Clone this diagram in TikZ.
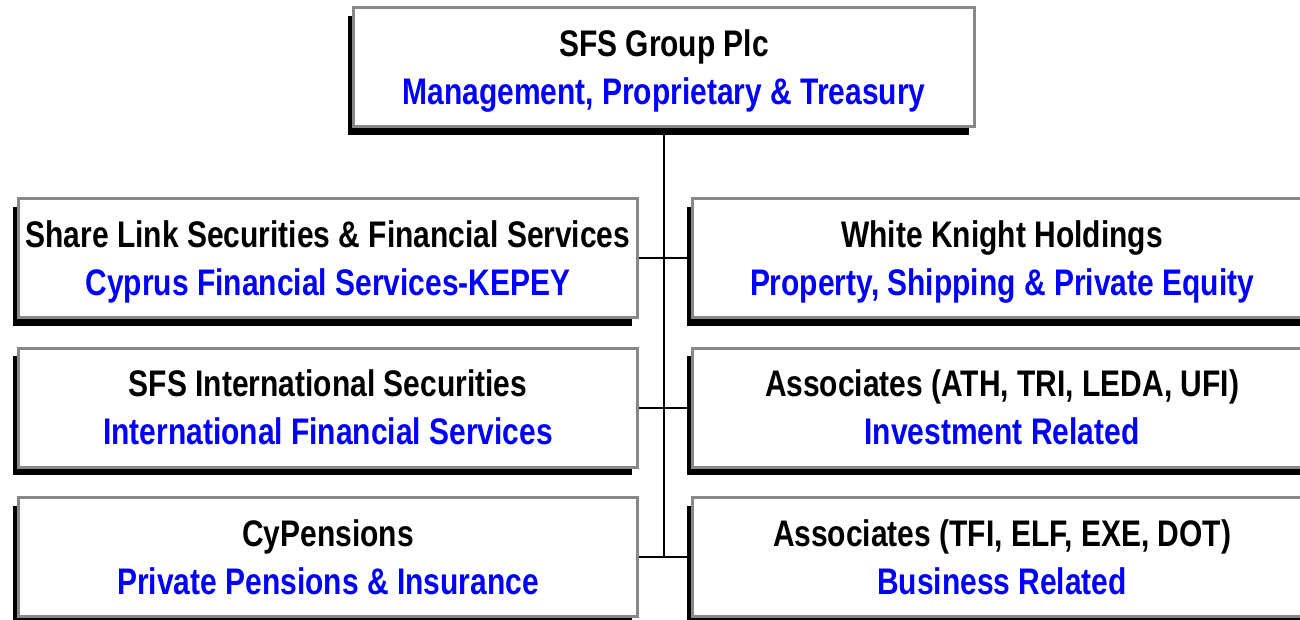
\documentclass[tikz,border=0pt]{standalone}
\usepackage{fontspec}
\setmainfont{Liberation Sans}[FakeStretch=0.81]
\usetikzlibrary{shadows}
\definecolor{boxgray}{RGB}{136,136,136}
\tikzset{
  orgbox/.style={draw=boxgray,line width=3pt,fill=white,minimum width=619pt,minimum height=119pt,inner sep=0pt,align=center,text depth=0pt,
    font=\fontsize{37}{48}\selectfont\bfseries,drop shadow={shadow xshift=-5.5pt,shadow yshift=-8pt,fill=black,opacity=1}},
  orgline/.style={line width=2pt}
}
\newcommand{\orgtext}[2]{#1\\\textcolor{blue}{#2}}
\begin{document}
\begin{tikzpicture}[x=1pt,y=-1pt]
\pgfmathsetmacro{\klx}{328}
\pgfmathsetmacro{\krx}{1002}
\useasboundingbox(0,0)rectangle(1300,619);
\clip(0,0)rectangle(1300,619);
\node[orgbox,minimum width=621pt](top) at (664,67){\orgtext{SFS Group Plc}{Management, Proprietary \& Treasury}};
% left and right rows
\foreach \k/\ky/\ltxt/\lsub/\rtxt/\rsub in {
  1/258/{Share Link Securities \& Financial Services}/{Cyprus Financial Services-KEPEY}/{White Knight Holdings}/{Property, Shipping \& Private Equity},
  2/407.5/{SFS International Securities}/{International Financial Services}/{Associates (ATH, TRI, LEDA, UFI)}/{Investment Related},
  3/557/{CyPensions}/{Private Pensions \& Insurance}/{Associates (TFI, ELF, EXE, DOT)}/{Business Related}}{
\node[orgbox](l\k) at (\klx,\ky){\orgtext{\ltxt}{\lsub}};
\node[orgbox](r\k) at (\krx,\ky){\orgtext{\rtxt}{\rsub}};
\draw[orgline](l\k.east)--(r\k.west);
}
\draw[orgline](top.south)--(top.south|-l3.east);
\end{tikzpicture}
\end{document}
